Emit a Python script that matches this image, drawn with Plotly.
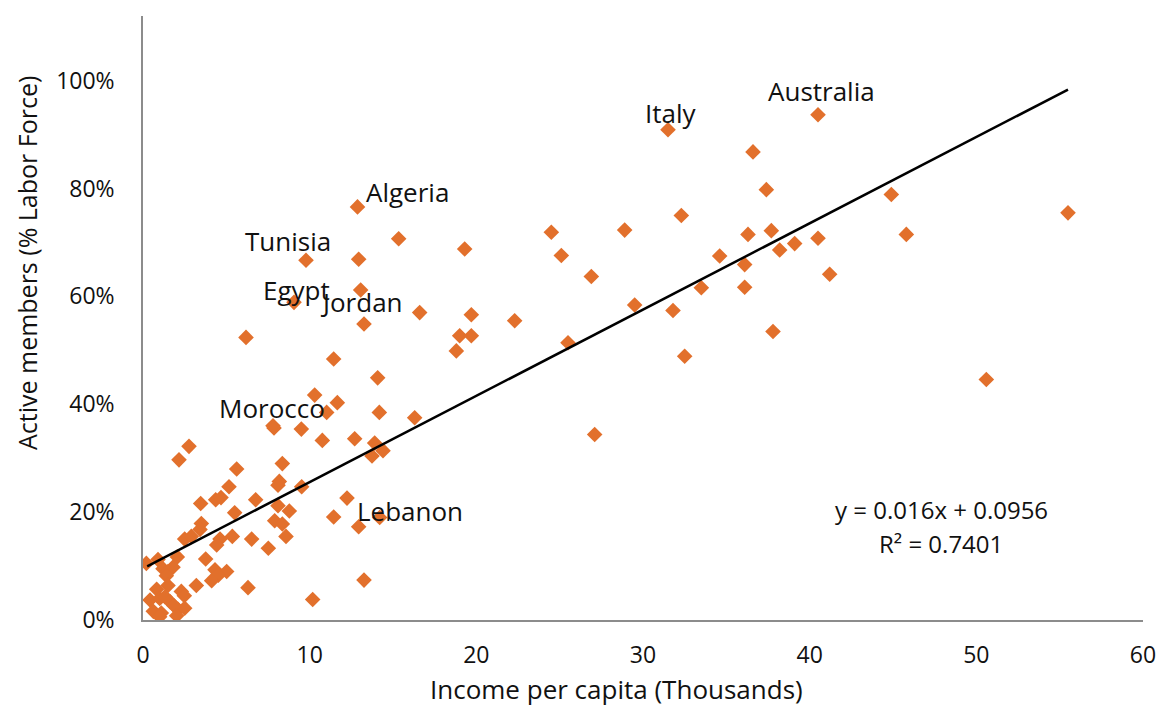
import plotly.graph_objects as go

# Income per capita (thousands) and active members (share of labour force)
income = [
    40.5, 31.5, 36.6, 37.4, 44.9, 55.5, 32.3, 24.5, 28.9, 36.3, 37.7, 40.5, 45.8, 39.1, 38.2,
    19.3, 25.1, 34.6, 36.1, 26.9, 41.2, 33.5, 36.1, 29.5, 31.8, 19.7, 22.3, 16.6, 37.8, 19.0,
    19.7, 25.5, 18.8, 32.5, 50.6, 27.1, 16.3,
    12.87, 15.34, 9.78, 12.94, 13.06, 9.06, 13.26, 6.18, 11.44, 14.08, 10.3, 11.66, 14.18, 11.02,
    7.86, 7.8, 9.5, 10.76, 12.7, 13.9, 14.4, 13.74, 8.36, 5.62, 5.16, 8.18, 8.1, 9.52, 6.76, 8.1,
    12.24, 4.36, 4.68, 3.46, 5.5, 8.78, 7.9, 8.36, 11.44, 12.94, 14.2, 3.5, 3.42, 8.58, 5.36, 6.52,
    4.62, 4.42, 7.52, 2.76, 2.16, 2.5, 2.9, 13.26, 6.3, 10.18,
    0.2, 0.9, 2.06, 3.76, 1.2, 1.5, 1.8, 1.4, 4.32, 5.02, 4.52, 4.12, 1.5, 3.2, 2.3, 2.48, 0.82,
    0.42, 1.0, 1.32, 1.62, 0.62, 1.1, 1.0, 2.1, 2.5, 1.85, 2.02,
]
members = [
    0.937, 0.909, 0.868, 0.798, 0.789, 0.755, 0.750, 0.719, 0.723, 0.715, 0.722, 0.708, 0.715, 0.698, 0.686,
    0.688, 0.676, 0.675, 0.659, 0.637, 0.641, 0.616, 0.617, 0.584, 0.574, 0.566, 0.555, 0.570, 0.535, 0.527,
    0.527, 0.514, 0.499, 0.489, 0.446, 0.344, 0.375,
    0.766, 0.707, 0.667, 0.669, 0.612, 0.589, 0.549, 0.524, 0.484, 0.449, 0.417, 0.403, 0.385, 0.385,
    0.356, 0.360, 0.354, 0.333, 0.336, 0.328, 0.314, 0.304, 0.290, 0.280, 0.247, 0.257, 0.250, 0.247, 0.223, 0.212,
    0.226, 0.223, 0.227, 0.216, 0.199, 0.202, 0.184, 0.178, 0.191, 0.173, 0.190, 0.179, 0.168, 0.155, 0.155, 0.150,
    0.150, 0.139, 0.133, 0.322, 0.297, 0.150, 0.155, 0.074, 0.060, 0.038,
    0.105, 0.112, 0.117, 0.113, 0.095, 0.090, 0.098, 0.082, 0.093, 0.090, 0.083, 0.073, 0.064, 0.064, 0.053, 0.045, 0.057,
    0.037, 0.040, 0.043, 0.034, 0.016, 0.013, 0.006, 0.020, 0.022, 0.027, 0.008,
]

# Country labels and where they sit
label_names = ["Australia", "Italy", "Algeria", "Tunisia", "Egypt", "Jordan", "Morocco", "Lebanon"]
label_x = [40.7, 31.65, 15.84, 8.7, 9.18, 13.1, 7.71, 16.02]
label_y = [0.981, 0.941, 0.794, 0.703, 0.612, 0.590, 0.393, 0.202]

# Linear trend line
trend_slope = 0.016
trend_intercept = 0.0956
trend_x = [0.25, 55.5]
trend_y = [trend_slope * v + trend_intercept for v in trend_x]

x_ticks = [0, 10, 20, 30, 40, 50, 60]
y_ticks = [0, 0.2, 0.4, 0.6, 0.8, 1.0]
y_tick_text = ["0%", "20%", "40%", "60%", "80%", "100%"]

FONT = "Open Sans"
TXT = "#111111"
fig = go.Figure()
fig.add_trace(go.Scatter(
    x=income, y=members, mode="markers",
    marker=dict(symbol="diamond", size=12, color="#E2702C", line=dict(width=0)),
    showlegend=False, hoverinfo="x+y",
))
fig.add_trace(go.Scatter(
    x=trend_x, y=trend_y, mode="lines",
    line=dict(color="black", width=2.5), showlegend=False,
))

for name, lx, ly in zip(label_names, label_x, label_y):
    fig.add_annotation(x=lx, y=ly, text=name, showarrow=False,
                       font=dict(family=FONT, size=26, color=TXT))

fig.add_annotation(x=47.9, y=0.205, text="y = 0.016x + 0.0956", showarrow=False,
                   font=dict(family=FONT, size=24, color=TXT))
fig.add_annotation(x=47.9, y=0.142, text="R² = 0.7401", showarrow=False,
                   font=dict(family=FONT, size=24, color=TXT))

fig.add_annotation(xref="paper", yref="paper", x=-0.116, y=0.591,
                   xanchor="center", yanchor="middle",
                   text="Active members (% Labor Force)", textangle=-90, showarrow=False,
                   font=dict(family=FONT, size=25, color=TXT))
fig.add_annotation(xref="paper", yref="paper", x=0.473, y=-0.114,
                   xanchor="center", yanchor="middle",
                   text="Income per capita (Thousands)", showarrow=False,
                   font=dict(family=FONT, size=26, color=TXT))

fig.update_xaxes(range=[0, 60], tickvals=x_ticks, showgrid=False, zeroline=False,
                 showline=True, linecolor="#8c8c8c", linewidth=1.5, ticks="",
                 ticklabelstandoff=14, automargin=False,
                 tickfont=dict(family=FONT, size=23, color=TXT))
fig.update_yaxes(range=[0, 1.12], tickvals=y_ticks, ticktext=y_tick_text, showgrid=False,
                 zeroline=False, showline=True, linecolor="#8c8c8c", linewidth=1.5, ticks="",
                 ticklabelstandoff=22, automargin=False,
                 tickfont=dict(family=FONT, size=23, color=TXT))

fig.update_layout(width=1160, height=707, margin=dict(l=143, r=17, t=16, b=87),
                  plot_bgcolor="white", paper_bgcolor="white")

# remove the default page margin so the figure fills the window exactly
fig.write_html("out.html", config={"displayModeBar": False},
               post_script="document.body.style.margin='0';document.body.style.overflow='hidden';")
